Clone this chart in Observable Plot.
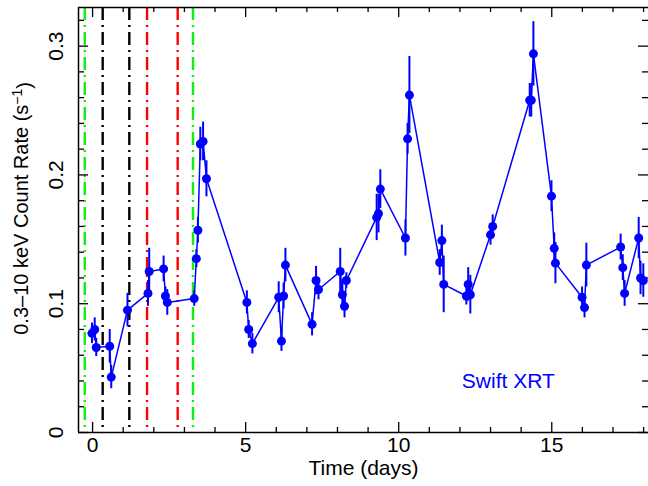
<!DOCTYPE html>
<html>
<head>
<meta charset="utf-8">
<script src="https://cdn.jsdelivr.net/npm/d3@7"></script>
<script src="https://cdn.jsdelivr.net/npm/@observablehq/plot@0.6"></script>
<style>
  html, body { margin: 0; padding: 0; background: #fff; overflow: hidden; }
</style>
</head>
<body>
<div id="chart"></div>
<script>
// Time (days) of each Swift XRT observation
const tDays = [-0.02, 0.07, 0.12, 0.56, 0.61, 1.14, 1.81, 1.85, 2.32, 2.38, 2.44,
  3.32, 3.39, 3.44, 3.52, 3.61, 3.72,
  5.04, 5.10, 5.22, 6.08, 6.17, 6.24, 6.30, 7.17, 7.30, 7.38,
  8.09, 8.16, 8.23, 8.29, 9.28, 9.34, 9.40,
  10.22, 10.29, 10.35, 11.34, 11.41, 11.47, 12.21, 12.27, 12.34,
  13.00, 13.07, 14.28, 14.33, 14.40, 14.99, 15.08, 15.12,
  15.99, 16.07, 16.13, 17.25, 17.32, 17.38, 17.84, 17.90, 17.99];
// 0.3-10 keV count rate (s^-1)
const rate = [0.077, 0.080, 0.066, 0.067, 0.043, 0.095, 0.108, 0.125, 0.127, 0.106, 0.101,
  0.104, 0.135, 0.157, 0.224, 0.226, 0.197,
  0.101, 0.080, 0.069, 0.105, 0.071, 0.106, 0.130, 0.084, 0.118, 0.111,
  0.125, 0.107, 0.098, 0.118, 0.167, 0.170, 0.189,
  0.151, 0.228, 0.262, 0.132, 0.149, 0.115, 0.106, 0.115, 0.107,
  0.1535, 0.160, 0.258, 0.258, 0.294, 0.1835, 0.143, 0.1315,
  0.105, 0.097, 0.130, 0.144, 0.128, 0.108, 0.151, 0.120, 0.118];
// 1-sigma errors
const rateErr = [0.008, 0.009, 0.007, 0.013, 0.009, 0.013, 0.010, 0.018, 0.010, 0.007, 0.010,
  0.006, 0.007, 0.010, 0.013, 0.015, 0.014,
  0.009, 0.007, 0.008, 0.012, 0.008, 0.010, 0.013, 0.009, 0.011, 0.008,
  0.018, 0.010, 0.009, 0.006, 0.018, 0.015, 0.015,
  0.014, 0.012, 0.030, 0.010, 0.012, 0.022, 0.007, 0.013, 0.015,
  0.008, 0.009, 0.013, 0.013, 0.025, 0.012, 0.012, 0.016,
  0.008, 0.008, 0.017, 0.010, 0.010, 0.010, 0.016, 0.013, 0.013];

// Vertical dash-dot marker lines
const vlineDays = [-0.255, 0.33, 1.20, 1.78, 2.78, 3.28];
const vlineColors = ["#11ee11", "black", "black", "red", "red", "#11ee11"];

// Ticks and labels
const xMajorTicks = [0, 5, 10, 15];
const xMinorTicks = [1, 2, 3, 4, 6, 7, 8, 9, 11, 12, 13, 14, 16, 17, 18];
const yMajorTicks = [0, 0.1, 0.2, 0.3];
const yMinorTicks = [0.02, 0.04, 0.06, 0.08, 0.12, 0.14, 0.16, 0.18, 0.22, 0.24, 0.26, 0.28, 0.32];
const xTickLabels = ["0", "5", "10", "15"];
const yTickLabels = ["0", "0.1", "0.2", "0.3"];
const xTitle = "Time (days)";
const yTitle = "0.3–10 keV Count Rate (s-1)";
const instrument = "Swift XRT";

const data = tDays.map((t, i) => ({t, v: rate[i], e: rateErr[i]}));
const vlines = vlineDays.map((t, i) => ({t, c: vlineColors[i]}));

const W = 648, H = 486, mL = 78, mR = 0, mT = 7, mB = 54;
const innerW = W - mL - mR, innerH = H - mT - mB;
const font = "Liberation Sans, Arial, Helvetica, sans-serif";
const blue = "#0000ff";

const chart = Plot.plot({
  width: W, height: H,
  marginLeft: mL, marginRight: mR, marginTop: mT, marginBottom: mB,
  style: {fontFamily: font, background: "white"},
  x: {domain: [-0.46, 18.16], axis: null},
  y: {domain: [0, 0.33], axis: null},
  marks: [
    Plot.ruleX(vlines, {x: "t", stroke: "c", strokeWidth: 2.4, strokeDasharray: "13,5,2,5"}),
    // inward ticks
    Plot.tickX(xMajorTicks, {x: d => d, stroke: "black", strokeWidth: 1.3, insetTop: innerH - 10}),
    Plot.tickX(xMinorTicks, {x: d => d, stroke: "black", strokeWidth: 1.3, insetTop: innerH - 5}),
    Plot.tickX(xMajorTicks, {x: d => d, stroke: "black", strokeWidth: 1.3, insetBottom: innerH - 10}),
    Plot.tickX(xMinorTicks, {x: d => d, stroke: "black", strokeWidth: 1.3, insetBottom: innerH - 5}),
    Plot.tickY(yMajorTicks, {y: d => d, stroke: "black", strokeWidth: 1.3, insetRight: innerW - 10}),
    Plot.tickY(yMinorTicks, {y: d => d, stroke: "black", strokeWidth: 1.3, insetRight: innerW - 6}),
    Plot.tickY(yMajorTicks, {y: d => d, stroke: "black", strokeWidth: 1.3, insetLeft: innerW - 10}),
    Plot.tickY(yMinorTicks, {y: d => d, stroke: "black", strokeWidth: 1.3, insetLeft: innerW - 6}),
    // frame (left, top, bottom)
    Plot.ruleX([-0.46], {stroke: "black", strokeWidth: 1.5}),
    Plot.ruleY([0], {stroke: "black", strokeWidth: 1.5}),
    Plot.ruleY([0.33], {stroke: "black", strokeWidth: 1.5}),
    // data
    Plot.ruleX(data, {x: "t", y1: d => d.v - d.e, y2: d => d.v + d.e, stroke: blue, strokeWidth: 2}),
    Plot.line(data, {x: "t", y: "v", stroke: blue, strokeWidth: 1.5}),
    Plot.dot(data, {x: "t", y: "v", r: 4.5, fill: blue, stroke: "none"}),
    // labels
    Plot.text(xMajorTicks, {x: d => d, text: (d, i) => xTickLabels[i], frameAnchor: "bottom", dy: 19, fontSize: 21, fill: "black"}),
    Plot.text(yMajorTicks, {y: d => d, text: (d, i) => yTickLabels[i], frameAnchor: "left", dx: -22, rotate: -90, textAnchor: "middle", fontSize: 21, fill: "black"}),
    Plot.text([xTitle], {text: d => d, frameAnchor: "bottom", dy: 42, fontSize: 21, fill: "black"}),
    Plot.text([yTitle], {text: d => d, frameAnchor: "left", y: () => 0.174, dx: -57, rotate: -90, textAnchor: "middle", fontSize: 20, fill: "black"}),
    Plot.text([instrument], {text: d => d, x: () => 13.58, y: () => 0.040, fontSize: 21, fill: blue, textAnchor: "middle"})
  ]
});

// superscript for the y title unit
d3.select(chart).selectAll("text").filter(function() { return this.textContent === yTitle; })
  .each(function() {
    const el = d3.select(this);
    el.text(null);
    el.append("tspan").text("0.3–10 keV Count Rate (s");
    el.append("tspan").attr("dy", "-0.45em").attr("font-size", "0.7em").text("−1");
    el.append("tspan").attr("dy", "0.45em").text(")");
  });

document.getElementById("chart").appendChild(chart);
</script>
</body>
</html>
